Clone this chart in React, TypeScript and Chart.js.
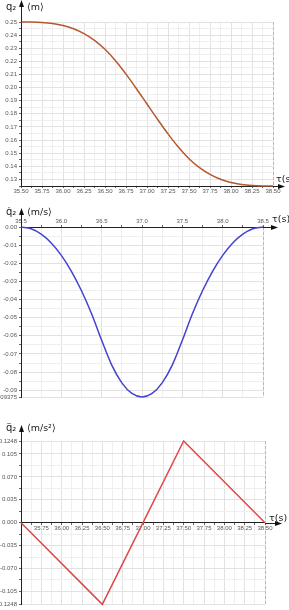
import React, { useEffect, useRef } from 'react';
import { Chart, registerables } from 'chart.js';

Chart.register(...registerables);

// ---- data ----
const timeS = [35.5, 35.625, 35.75, 35.875, 36.0, 36.125, 36.25, 36.375, 36.5, 36.625, 36.75, 36.875, 37.0, 37.125, 37.25, 37.375, 37.5, 37.625, 37.75, 37.875, 38.0, 38.125, 38.25, 38.375, 38.5];
const positionM = [0.25, 0.24996, 0.24967, 0.2489, 0.2474, 0.24491, 0.24121, 0.23604, 0.22917, 0.22046, 0.21029, 0.19914, 0.1875, 0.17586, 0.16471, 0.15454, 0.14583, 0.13896, 0.13379, 0.13009, 0.1276, 0.1261, 0.12533, 0.12504, 0.125];
const velocityMS = [0, -0.00098, -0.00391, -0.00879, -0.01563, -0.02441, -0.03516, -0.04785, -0.0625, -0.07617, -0.08594, -0.0918, -0.09375, -0.0918, -0.08594, -0.07617, -0.0625, -0.04785, -0.03516, -0.02441, -0.01563, -0.00879, -0.00391, -0.00098, 0];
const accelTimeS = [35.5, 36.5, 37.5, 38.5];
const accelMS2 = [0, -0.1248, 0.1248, 0];

// ---- tick labels ----
const posXTicks = [35.5, 35.75, 36.0, 36.25, 36.5, 36.75, 37.0, 37.25, 37.5, 37.75, 38.0, 38.25, 38.5];
const posYTicks = [0.13, 0.14, 0.15, 0.16, 0.17, 0.18, 0.19, 0.2, 0.21, 0.22, 0.23, 0.24, 0.25];
const velXTicks = [35.5, 36.0, 36.5, 37.0, 37.5, 38.0, 38.5];
const velYTicks = [0, -0.01, -0.02, -0.03, -0.04, -0.05, -0.06, -0.07, -0.08, -0.09, -0.09375];
const accXTicks = [35.75, 36.0, 36.25, 36.5, 36.75, 37.0, 37.25, 37.5, 37.75, 38.0, 38.25, 38.5];
const accYTicks = [0.1248, 0.105, 0.07, 0.035, 0, -0.035, -0.07, -0.105, -0.1248];

// minor grid positions (style only)
function steps(from: number, to: number, step: number): number[] {
  const out: number[] = [];
  const n = Math.round((to - from) / step);
  for (let i = 0; i <= n; i++) out.push(+(from + i * step).toFixed(6));
  return out;
}
const near = (a: number, b: number) => Math.abs(a - b) < 1e-7;
const has = (arr: number[], v: number) => arr.some((a) => near(a, v));

const FONT = "'Liberation Sans', Arial, sans-serif";
const TITLE_FONT = "'DejaVu Sans', 'Liberation Sans', sans-serif";

type Spec = {
  top: number; height: number; color: string; smooth: boolean;
  xs: number[]; ys: number[];
  xMin: number; xMax: number; yMin: number; yMax: number;
  xMajor: number[]; xMinor: number[]; xFmt: (v: number) => string;
  yMajor: number[]; yMinor: number[]; yFmt: (v: number) => string;
  xPosition: any; xAxisAt: number; xAxisHeight?: number;
  padding: { top: number; right: number; bottom: number; left: number };
  title: string; unit: string; titleY: number;
  arrowTipY: number; arrowEndX: number; tauX: number; tauY: number;
};

function decor(spec: Spec) {
  return {
    id: 'decor',
    afterDraw(chart: any) {
      const { ctx, chartArea: a, scales } = chart;
      const axisY = Math.round(scales.y.getPixelForValue(spec.xAxisAt)) + 0.5;
      const x0 = Math.round(a.left) + 0.5;
      ctx.save();
      // dashed right edge
      ctx.strokeStyle = '#b8b8b8';
      ctx.lineWidth = 1;
      ctx.setLineDash([3, 2]);
      ctx.beginPath();
      ctx.moveTo(Math.round(a.right) + 0.5, a.top);
      ctx.lineTo(Math.round(a.right) + 0.5, a.bottom);
      ctx.stroke();
      ctx.setLineDash([]);
      // y axis arrow
      ctx.strokeStyle = '#222';
      ctx.fillStyle = '#111';
      ctx.beginPath();
      ctx.moveTo(x0, a.top);
      ctx.lineTo(x0, spec.arrowTipY + 5);
      ctx.stroke();
      ctx.beginPath();
      ctx.moveTo(x0, spec.arrowTipY);
      ctx.lineTo(x0 - 2.5, spec.arrowTipY + 7);
      ctx.lineTo(x0 + 2.5, spec.arrowTipY + 7);
      ctx.closePath();
      ctx.fill();
      // x axis arrow
      ctx.beginPath();
      ctx.moveTo(a.right, axisY);
      ctx.lineTo(spec.arrowEndX - 5, axisY);
      ctx.stroke();
      ctx.beginPath();
      ctx.moveTo(spec.arrowEndX, axisY);
      ctx.lineTo(spec.arrowEndX - 7, axisY - 2.5);
      ctx.lineTo(spec.arrowEndX - 7, axisY + 2.5);
      ctx.closePath();
      ctx.fill();
      // texts
      ctx.fillStyle = '#222';
      ctx.textBaseline = 'alphabetic';
      ctx.textAlign = 'left';
      ctx.font = `10px ${TITLE_FONT}`;
      ctx.fillText(spec.title, 6, spec.titleY);
      ctx.font = `9.5px ${TITLE_FONT}`;
      ctx.fillText(spec.unit, 27, spec.titleY);
      ctx.fillText('τ(s)', spec.tauX, spec.tauY);
      ctx.restore();
    },
  };
}

function makeConfig(spec: Spec): any {
  const xAll = [...spec.xMajor, ...spec.xMinor.filter((v) => !has(spec.xMajor, v))].sort((p, q) => p - q);
  const yAll = [...spec.yMajor, ...spec.yMinor.filter((v) => !has(spec.yMajor, v))].sort((p, q) => p - q);
  const tickFont = { family: FONT, size: 6 };
  const ds: any = {
    data: spec.xs.map((x, i) => ({ x, y: spec.ys[i] })),
    borderColor: spec.color,
    borderWidth: 1.5,
    pointRadius: 0,
    fill: false,
    tension: 0,
    clip: false,
  };
  if (spec.smooth) ds.cubicInterpolationMode = 'monotone';
  return {
    type: 'line',
    data: { datasets: [ds] },
    options: {
      animation: false,
      responsive: false,
      events: [],
      layout: { padding: spec.padding },
      plugins: { legend: { display: false }, tooltip: { enabled: false } },
      scales: {
        x: {
          type: 'linear',
          min: spec.xMin,
          max: spec.xMax,
          position: spec.xPosition,
          afterBuildTicks: (s: any) => {
            s.ticks = xAll.map((v) => ({ value: v }));
          },
          afterFit: (s: any) => {
            if (spec.xAxisHeight != null) s.height = spec.xAxisHeight;
          },
          ticks: {
            autoSkip: false,
            maxRotation: 0,
            padding: 0,
            font: tickFont,
            color: '#555',
            callback: (v: number) => (has(spec.xMajor, v) ? spec.xFmt(v) : ''),
          },
          grid: {
            color: (c: any) => (c.tick && has(spec.xMajor, c.tick.value) ? '#e2e2e2' : '#efefef'),
            tickLength: 2,
            tickColor: '#666',
          },
          border: { color: '#222', width: 1 },
        },
        y: {
          type: 'linear',
          min: spec.yMin,
          max: spec.yMax,
          afterBuildTicks: (s: any) => {
            s.ticks = yAll.map((v) => ({ value: v }));
          },
          afterFit: (s: any) => {
            s.width = 21;
          },
          ticks: {
            autoSkip: false,
            padding: 2,
            font: tickFont,
            color: '#555',
            callback: (v: number) => (has(spec.yMajor, v) ? spec.yFmt(v) : ''),
          },
          grid: {
            color: (c: any) => (c.tick && has(spec.yMajor, c.tick.value) ? '#e2e2e2' : '#efefef'),
            tickLength: 2,
            tickColor: '#666',
          },
          border: { color: '#222', width: 1 },
        },
      },
    },
    plugins: [decor(spec)],
  };
}

const specs: Spec[] = [
  {
    top: 0, height: 195, color: '#b5582e', smooth: true,
    xs: timeS, ys: positionM,
    xMin: 35.5, xMax: 38.5, yMin: 0.125, yMax: 0.25,
    xMajor: posXTicks, xMinor: steps(35.5, 38.5, 0.125), xFmt: (v) => v.toFixed(2),
    yMajor: posYTicks, yMinor: steps(0.125, 0.25, 0.005), yFmt: (v) => v.toFixed(2),
    xPosition: 'bottom', xAxisAt: 0.125, xAxisHeight: 9,
    padding: { top: 22, right: 16, bottom: 0, left: 0 },
    title: 'q₂', unit: '⟨m⟩', titleY: 10,
    arrowTipY: 0, arrowEndX: 285, tauX: 276, tauY: 182,
  },
  {
    top: 195, height: 210, color: '#4343cf', smooth: true,
    xs: timeS, ys: velocityMS,
    xMin: 35.5, xMax: 38.5, yMin: -0.09375, yMax: 0,
    xMajor: velXTicks, xMinor: steps(35.5, 38.5, 0.25), xFmt: (v) => v.toFixed(1),
    yMajor: velYTicks, yMinor: steps(-0.09, 0, 0.005), yFmt: (v) => (near(v, -0.09375) ? '-0.09375' : v.toFixed(2)),
    xPosition: 'top', xAxisAt: 0, xAxisHeight: 10,
    padding: { top: 22, right: 26, bottom: 8, left: 0 },
    title: 'q̇₂', unit: '⟨m/s⟩', titleY: 20,
    arrowTipY: 13, arrowEndX: 278, tauX: 272, tauY: 27,
  },
  {
    top: 405, height: 205, color: '#e04848', smooth: false,
    xs: accelTimeS, ys: accelMS2,
    xMin: 35.5, xMax: 38.5, yMin: -0.1248, yMax: 0.1248,
    xMajor: accXTicks, xMinor: steps(35.5, 38.5, 0.125), xFmt: (v) => v.toFixed(2),
    yMajor: accYTicks, yMinor: [-0.0875, -0.0525, -0.0175, 0.0175, 0.0525, 0.0875],
    yFmt: (v) => (near(Math.abs(v), 0.1248) ? v.toFixed(4) : v.toFixed(3)),
    xPosition: { y: 0 }, xAxisAt: 0,
    padding: { top: 36, right: 24, bottom: 1, left: 0 },
    title: 'q̈₂', unit: '⟨m/s²⟩', titleY: 26,
    arrowTipY: 20, arrowEndX: 282, tauX: 269, tauY: 116,
  },
];

function Panel({ spec }: { spec: Spec }) {
  const ref = useRef<HTMLCanvasElement | null>(null);
  useEffect(() => {
    if (!ref.current) return;
    const chart = new Chart(ref.current, makeConfig(spec));
    return () => chart.destroy();
  }, [spec]);
  return (
    <canvas
      ref={ref}
      width={289}
      height={spec.height}
      style={{ position: 'absolute', left: 0, top: spec.top, width: 289, height: spec.height }}
    />
  );
}

export default function App() {
  return (
    <div style={{ position: 'fixed', left: 0, top: 0, width: 289, height: 610, background: '#fff', overflow: 'hidden' }}>
      {specs.map((s, i) => (
        <Panel key={i} spec={s} />
      ))}
    </div>
  );
}
